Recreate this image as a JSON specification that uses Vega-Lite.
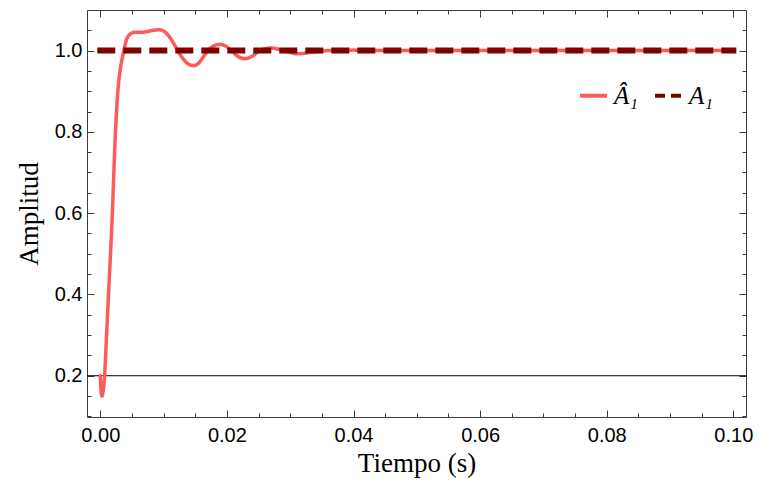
{
  "$schema": "https://vega.github.io/schema/vega-lite/v6.json",
  "width": 659,
  "height": 407,
  "autosize": {"type": "none"},
  "padding": {"left": 87, "top": 10, "right": 13, "bottom": 72},
  "background": "white",
  "config": {
    "view": {"stroke": "#3c3c3c", "strokeWidth": 1},
    "axis": {
      "grid": false,
      "domain": false,
      "labelFont": "Liberation Sans",
      "labelFontSize": 20,
      "labelColor": "black",
      "titleFont": "Liberation Serif",
      "titleFontSize": 27,
      "titleFontWeight": "normal",
      "titleColor": "black",
      "tickColor": "#3c3c3c",
      "tickWidth": 1
    }
  },
  "datasets": {
    "curve": [
      {"t": 0, "v": 0.2},
      {"t": 0.0001, "v": 0.168},
      {"t": 0.00027, "v": 0.15},
      {"t": 0.00045, "v": 0.162},
      {"t": 0.00068, "v": 0.2},
      {"t": 0.0009, "v": 0.27},
      {"t": 0.0013, "v": 0.4},
      {"t": 0.00185, "v": 0.58},
      {"t": 0.0024, "v": 0.8},
      {"t": 0.0028, "v": 0.905},
      {"t": 0.0032, "v": 0.958},
      {"t": 0.0037, "v": 0.998},
      {"t": 0.0041, "v": 1.025},
      {"t": 0.0047, "v": 1.04},
      {"t": 0.0055, "v": 1.045},
      {"t": 0.0065, "v": 1.045},
      {"t": 0.0075, "v": 1.047},
      {"t": 0.0085, "v": 1.05},
      {"t": 0.0093, "v": 1.051},
      {"t": 0.01, "v": 1.048},
      {"t": 0.0108, "v": 1.036},
      {"t": 0.0115, "v": 1.02},
      {"t": 0.0122, "v": 1.0},
      {"t": 0.013, "v": 0.981},
      {"t": 0.0138, "v": 0.968},
      {"t": 0.0147, "v": 0.963},
      {"t": 0.0156, "v": 0.97},
      {"t": 0.0163, "v": 0.985},
      {"t": 0.017, "v": 1.0},
      {"t": 0.018, "v": 1.012},
      {"t": 0.0189, "v": 1.015},
      {"t": 0.0198, "v": 1.011},
      {"t": 0.0207, "v": 1.0},
      {"t": 0.0218, "v": 0.985},
      {"t": 0.0229, "v": 0.98},
      {"t": 0.024, "v": 0.986},
      {"t": 0.0252, "v": 1.0},
      {"t": 0.027, "v": 1.006},
      {"t": 0.0289, "v": 1.0},
      {"t": 0.0312, "v": 0.992},
      {"t": 0.0335, "v": 0.996},
      {"t": 0.0362, "v": 1.0},
      {"t": 0.04, "v": 1.001},
      {"t": 0.045, "v": 1.0},
      {"t": 0.06, "v": 1.0},
      {"t": 0.08, "v": 1.0},
      {"t": 0.1, "v": 1.0}
    ],
    "ref": [
      {"t": 0, "v": 1.0},
      {"t": 0.1, "v": 1.0}
    ],
    "base": [
      {"v": 0.2}
    ]
  },
  "resolve": {
    "scale": {"x": "shared", "y": "shared"},
    "axis": {"x": "independent", "y": "independent"}
  },
  "layer": [
    {
      "data": {"name": "base"},
      "mark": {"type": "rule", "color": "black", "strokeWidth": 1},
      "encoding": {
        "y": {
          "field": "v",
          "type": "quantitative",
          "scale": {"domain": [0.0985, 1.0997], "nice": false, "zero": false},
          "axis": {
            "orient": "left",
            "values": [0.2, 0.4, 0.6, 0.8, 1.0],
            "format": ".1f",
            "ticks": false,
            "labelPadding": 5,
            "title": "Amplitud",
            "titlePadding": 11
          }
        }
      }
    },
    {
      "data": {"name": "curve"},
      "mark": {"type": "line", "strokeWidth": 3.5, "interpolate": "monotone", "strokeCap": "round"},
      "encoding": {
        "x": {
          "field": "t",
          "type": "quantitative",
          "scale": {"domain": [-0.0021, 0.102], "nice": false, "zero": false},
          "axis": {
            "orient": "bottom",
            "values": [0, 0.02, 0.04, 0.06, 0.08, 0.1],
            "format": ".2f",
            "ticks": false,
            "labelPadding": 8,
            "title": "Tiempo (s)",
            "titlePadding": 5
          }
        },
        "y": {
          "field": "v",
          "type": "quantitative",
          "axis": {
            "orient": "left",
            "values": [0.2, 0.4, 0.6, 0.8, 1.0],
            "labels": false,
            "tickSize": -7,
            "title": null
          }
        },
        "color": {
          "datum": "Â₁",
          "type": "nominal",
          "scale": {"domain": ["Â₁", "A₁"], "range": ["#ff5a5a", "#800000"]},
          "legend": {
            "title": null,
            "orient": "none",
            "direction": "horizontal",
            "legendX": 491,
            "legendY": 70,
            "symbolType": "stroke",
            "symbolSize": 729,
            "symbolStrokeWidth": 4,
            "labelFont": "Liberation Serif",
            "labelFontStyle": "italic",
            "labelFontSize": 25,
            "labelColor": "black",
            "labelOffset": 5,
            "columnPadding": 9
          }
        },
        "strokeDash": {
          "datum": "Â₁",
          "type": "nominal",
          "scale": {"domain": ["Â₁", "A₁"], "range": [[1, 0], [10, 6]]}
        }
      }
    },
    {
      "data": {"name": "ref"},
      "mark": {"type": "line", "strokeWidth": 6, "strokeCap": "square", "strokeDash": [12, 14]},
      "encoding": {
        "x": {
          "field": "t",
          "type": "quantitative",
          "axis": {
            "orient": "bottom",
            "values": [0, 0.02, 0.04, 0.06, 0.08, 0.1],
            "labels": false,
            "tickSize": -7,
            "title": null
          }
        },
        "y": {
          "field": "v",
          "type": "quantitative",
          "axis": {
            "orient": "left",
            "values": [0.1, 0.15, 0.25, 0.3, 0.35, 0.45, 0.5, 0.55, 0.65, 0.7, 0.75, 0.85, 0.9, 0.95, 1.05, 1.1],
            "labels": false,
            "tickSize": -4,
            "title": null
          }
        },
        "color": {"datum": "A₁", "type": "nominal"}
      }
    },
    {
      "data": {"name": "ref"},
      "mark": {"type": "line", "opacity": 0},
      "encoding": {
        "x": {
          "field": "t",
          "type": "quantitative",
          "axis": {
            "orient": "bottom",
            "values": [0.005, 0.01, 0.015, 0.025, 0.03, 0.035, 0.045, 0.05, 0.055, 0.065, 0.07, 0.075, 0.085, 0.09, 0.095],
            "labels": false,
            "tickSize": -4,
            "title": null
          }
        },
        "y": {
          "field": "v",
          "type": "quantitative",
          "axis": {
            "orient": "right",
            "values": [0.2, 0.4, 0.6, 0.8, 1.0],
            "labels": false,
            "tickSize": -7,
            "title": null
          }
        }
      }
    },
    {
      "data": {"name": "ref"},
      "mark": {"type": "line", "opacity": 0},
      "encoding": {
        "x": {
          "field": "t",
          "type": "quantitative",
          "axis": {
            "orient": "top",
            "values": [0, 0.02, 0.04, 0.06, 0.08, 0.1],
            "labels": false,
            "tickSize": -7,
            "title": null
          }
        },
        "y": {
          "field": "v",
          "type": "quantitative",
          "axis": {
            "orient": "right",
            "values": [0.1, 0.15, 0.25, 0.3, 0.35, 0.45, 0.5, 0.55, 0.65, 0.7, 0.75, 0.85, 0.9, 0.95, 1.05, 1.1],
            "labels": false,
            "tickSize": -4,
            "title": null
          }
        }
      }
    },
    {
      "data": {"name": "ref"},
      "mark": {"type": "line", "opacity": 0},
      "encoding": {
        "x": {
          "field": "t",
          "type": "quantitative",
          "axis": {
            "orient": "top",
            "values": [0.005, 0.01, 0.015, 0.025, 0.03, 0.035, 0.045, 0.05, 0.055, 0.065, 0.07, 0.075, 0.085, 0.09, 0.095],
            "labels": false,
            "tickSize": -4,
            "title": null
          }
        },
        "y": {
          "field": "v",
          "type": "quantitative",
          "axis": null
        }
      }
    }
  ]
}
